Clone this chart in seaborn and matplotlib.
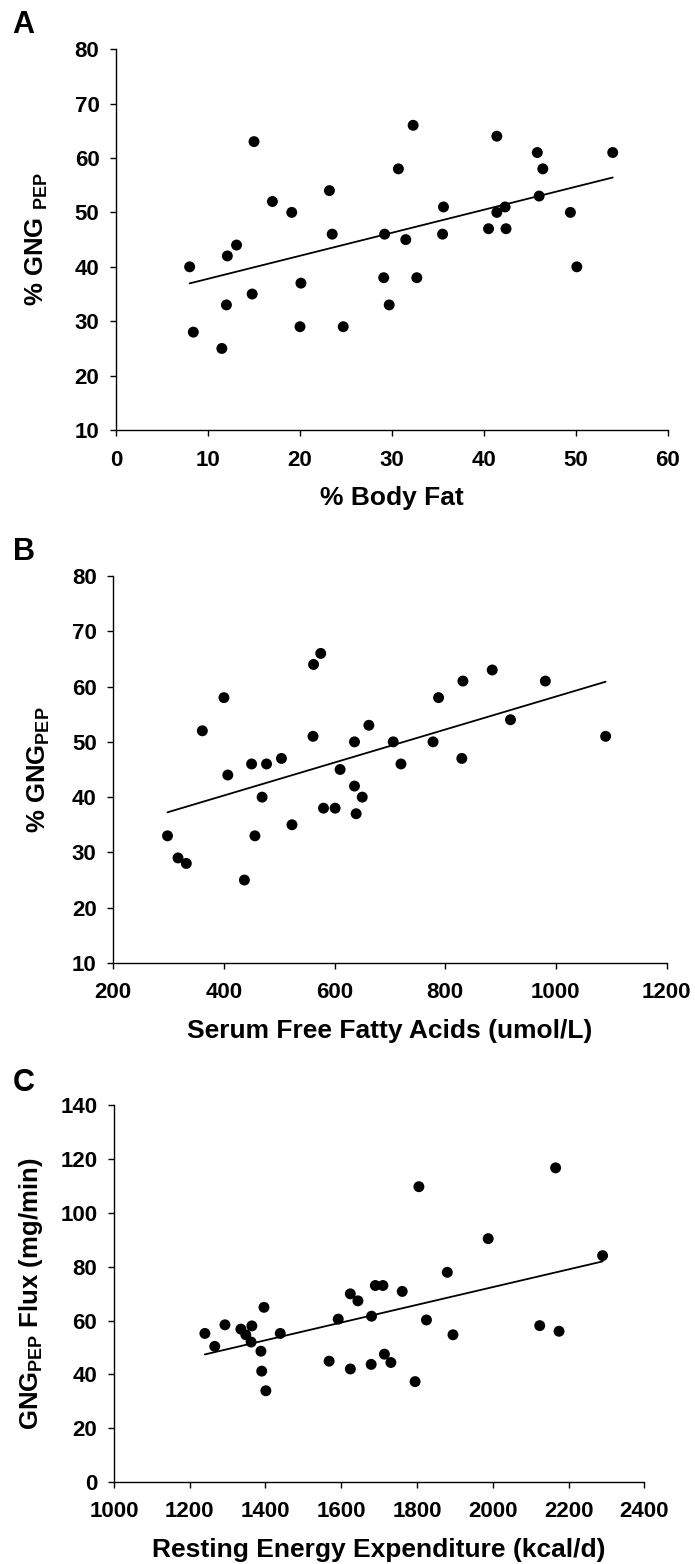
import matplotlib
matplotlib.use('Agg')
import matplotlib.pyplot as plt
import seaborn as sns
import pandas as pd

# panel A: % body fat vs % GNG(PEP)
body_fat = [8.0, 8.4, 11.5, 12.0, 12.1, 13.1, 14.8, 15.0, 17.0, 19.1, 20.0, 20.1,
            23.2, 23.5, 24.7, 29.1, 29.2, 29.7, 30.7, 31.5, 32.3, 32.7, 35.5, 35.6,
            40.5, 41.4, 41.4, 42.3, 42.4, 45.8, 46.0, 46.4, 49.4, 50.1, 54.0]
gng_a = [40, 28, 25, 33, 42, 44, 35, 63, 52, 50, 29, 37,
         54, 46, 29, 38, 46, 33, 58, 45, 66, 38, 46, 51,
         47, 64, 50, 51, 47, 61, 53, 58, 50, 40, 61]

# panel B: serum FFA vs % GNG(PEP)
ffa = [298, 317, 332, 361, 400, 407, 437, 450, 456, 469, 477, 504,
       523, 561, 562, 575, 580, 601, 610, 636, 636, 639, 650, 662,
       706, 720, 778, 788, 830, 832, 885, 918, 981, 1090]
gng_b = [33, 29, 28, 52, 58, 44, 25, 46, 33, 40, 46, 47,
         35, 51, 64, 66, 38, 38, 45, 50, 42, 37, 40, 53,
         50, 46, 50, 58, 47, 61, 63, 54, 61, 51]

# panel C: resting energy expenditure vs GNG(PEP) flux
ree = [1240, 1266, 1293, 1335, 1348, 1362, 1364, 1388, 1390, 1396, 1401, 1439,
       1568, 1592, 1624, 1624, 1644, 1679, 1680, 1690, 1710, 1714, 1731, 1761,
       1795, 1805, 1825, 1880, 1895, 1988, 2124, 2166, 2175, 2290]
flux = [55.2, 50.4, 58.4, 56.8, 54.7, 52.0, 58.0, 48.6, 41.2, 64.9, 33.9, 55.2,
        44.9, 60.5, 42.0, 69.9, 67.3, 43.7, 61.6, 73.0, 73.0, 47.5, 44.4, 70.8,
        37.3, 109.7, 60.2, 77.9, 54.7, 90.4, 58.1, 116.7, 56.0, 84.1]

sns.set_style('ticks')
plt.rcParams['font.family'] = ['Liberation Sans', 'DejaVu Sans']
plt.rcParams['font.weight'] = 'bold'
plt.rcParams['mathtext.fontset'] = 'custom'
plt.rcParams['mathtext.rm'] = 'Liberation Sans:bold'
plt.rcParams['mathtext.bf'] = 'Liberation Sans:bold'
for key in ('text.color', 'axes.labelcolor', 'xtick.color', 'ytick.color', 'axes.edgecolor'):
    plt.rcParams[key] = 'black'

TICK_FONT = ['Liberation Sans Narrow', 'Liberation Sans']


def scatter_panel(ax, x, y, xlabel, ylabel, xlim, xticks, ylim, yticks, letter, label_y, ypad):
    df = pd.DataFrame({'x': x, 'y': y})
    sns.regplot(x='x', y='y', data=df, ax=ax, ci=None, color='black',
                scatter_kws={'s': 62, 'edgecolor': 'none', 'alpha': 1},
                line_kws={'linewidth': 1.3})
    ax.set_xlim(*xlim)
    ax.set_ylim(*ylim)
    ax.set_xticks(xticks)
    ax.set_yticks(yticks)
    sns.despine(ax=ax)
    for s in ('left', 'bottom'):
        ax.spines[s].set_linewidth(1.0)
    ax.tick_params(axis='x', direction='out', length=4, width=1.0, pad=10)
    ax.tick_params(axis='y', direction='out', length=4, width=1.0, pad=8)
    for t in ax.get_xticklabels() + ax.get_yticklabels():
        t.set_fontweight('bold')
        t.set_family(TICK_FONT)
        t.set_fontsize(16)
    ax.set_xlabel(xlabel, fontsize=19, fontweight='bold', labelpad=11)
    ax.set_ylabel(ylabel, fontsize=18.5, fontweight='bold', labelpad=ypad)
    fig.text(0.018, label_y, letter, fontsize=22, fontweight='bold', va='center')


fig = plt.figure(figsize=(6.95, 15.64), dpi=100)
ax_a = fig.add_axes([0.167, 0.725, 0.794, 0.2436])
ax_b = fig.add_axes([0.163, 0.3843, 0.796, 0.2474])
ax_c = fig.add_axes([0.164, 0.0524, 0.763, 0.241])

scatter_panel(ax_a, body_fat, gng_a, '% Body Fat', r'% GNG $_{\mathrm{PEP}}$',
              (0, 60), range(0, 61, 10), (10, 80), range(10, 81, 10), 'A', 1 - 25 / 1564, 18)
scatter_panel(ax_b, ffa, gng_b, 'Serum Free Fatty Acids (umol/L)', r'% GNG$_{\mathrm{PEP}}$',
              (200, 1200), range(200, 1201, 200), (10, 80), range(10, 81, 10), 'B', 1 - 552 / 1564, 14)
scatter_panel(ax_c, ree, flux, 'Resting Energy Expenditure (kcal/d)', r'GNG$_{\mathrm{PEP}}$ Flux (mg/min)',
              (1000, 2400), range(1000, 2401, 200), (0, 140), range(0, 141, 20), 'C', 1 - 1083 / 1564, 11)

fig.savefig('out.png', dpi=100)
